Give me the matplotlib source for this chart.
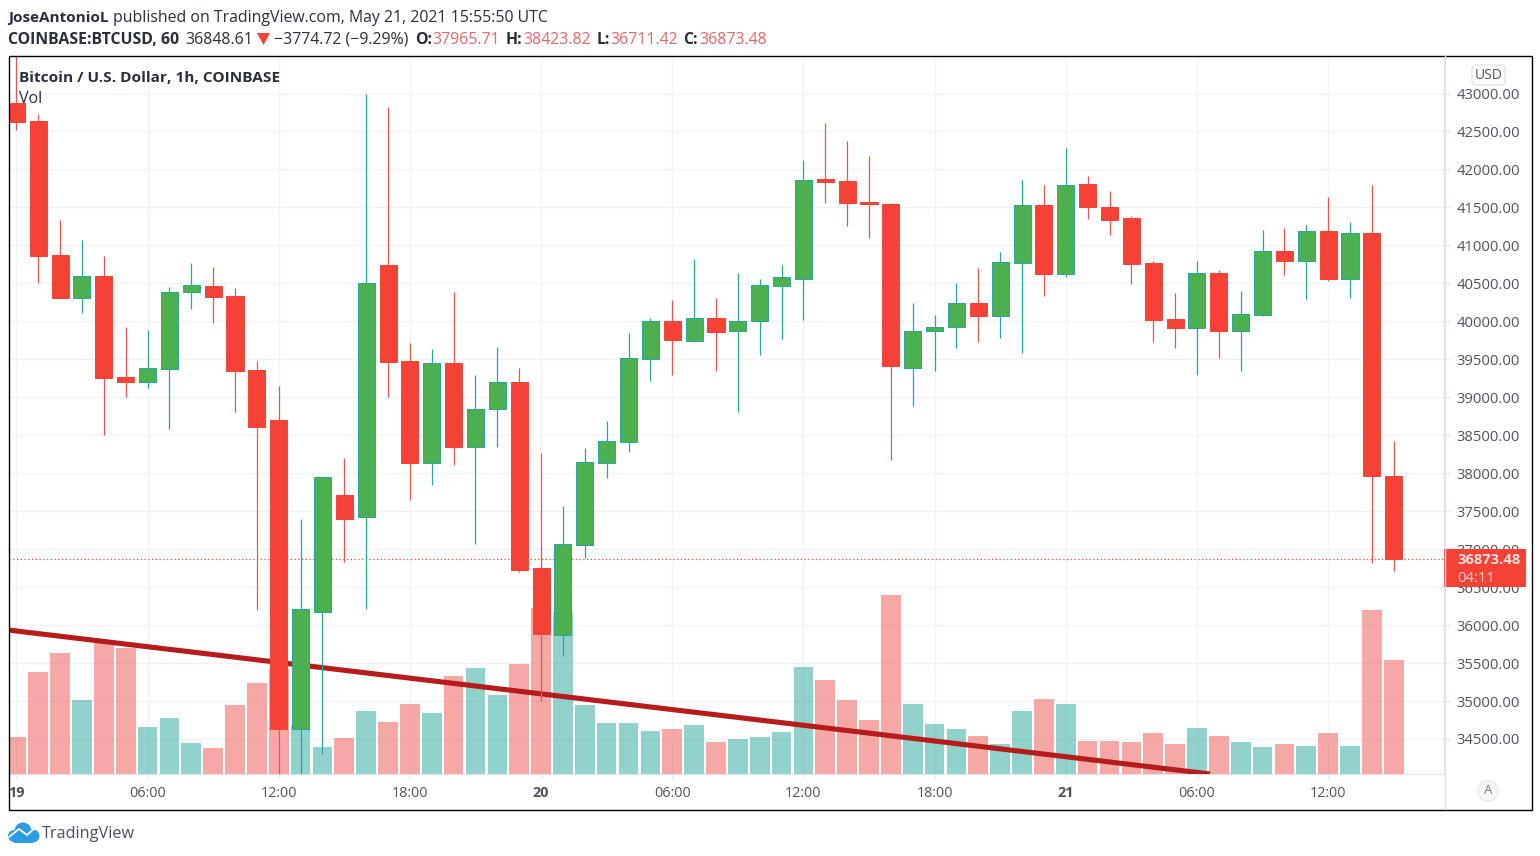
import matplotlib
matplotlib.use('Agg')
import matplotlib.pyplot as plt
from matplotlib.patches import Rectangle, FancyBboxPatch, Polygon, Circle

plt.rcParams['font.family'] = ['Open Sans', 'DejaVu Sans']

# precios de cada vela (1h)
opens = [42875, 42638, 40873, 40307, 40597, 39267, 39201, 39372, 40386, 40465,
         40333, 39359, 38700, 34632, 36172, 37713, 37423, 40741, 39477, 38134,
         39451, 38345, 38845, 39201, 36751, 35869, 37055, 38134, 38411, 39504,
         40004, 39741, 40043, 39872, 40004, 40465, 40557, 41874, 41848, 41571,
         41545, 39385, 39872, 39925, 40241, 40070, 40768, 41532, 40623, 41808,
         41505, 41361, 40768, 40031, 39912, 40636, 39872, 40083, 40926, 40794,
         41189, 40557, 41163, 37965.71]
closes = [42625, 40860, 40307, 40597, 39254, 39201, 39385, 40386, 40478, 40320,
          39346, 38608, 34632, 36212, 37950, 37397, 40504, 39464, 38134, 39451,
          38345, 38845, 39201, 36725, 35882, 37068, 38147, 38424, 39517, 40004,
          39754, 40043, 39859, 40004, 40478, 40583, 41861, 41835, 41558, 41545,
          39411, 39872, 39925, 40241, 40070, 40781, 41532, 40623, 41795, 41505,
          41334, 40755, 40017, 39912, 40636, 39872, 40096, 40926, 40794, 41189,
          40557, 41163, 37963, 36873.48]
highs = [43494, 42730, 41334, 41071, 40860, 39925, 39886, 40452, 40768, 40715,
         40439, 39477, 39148, 37397, 37950, 38200, 42993, 42822, 39714, 39635,
         40386, 39293, 39662, 39385, 38266, 37568, 38332, 38687, 39846, 40043,
         40281, 40821, 40307, 40636, 40557, 40741, 42124, 42611, 42374, 42177,
         41558, 40241, 40083, 40504, 40702, 40913, 41861, 41795, 42282, 41914,
         41716, 41387, 40794, 40373, 40794, 40675, 40399, 41203, 41229, 41268,
         41637, 41308, 41795, 38423.82]
lows = [42519, 40504, 40307, 40109, 38503, 39003, 39122, 38582, 40162, 39978,
        38806, 36199, 34039, 34039, 34302, 36831, 36212, 39003, 37647, 37844,
        38108, 37068, 38345, 36699, 35000, 35593, 36883, 37937, 38279, 39214,
        39293, 39728, 39346, 38806, 39556, 39767, 40017, 41558, 41255, 41097,
        38174, 38885, 39346, 39649, 39728, 39780, 39583, 40333, 40583, 41347,
        41137, 40491, 39728, 39649, 39293, 39517, 39346, 40070, 40610, 40294,
        40531, 40307, 36817, 36711.42]
volumes = [37, 102, 121, 74, 132, 126, 47, 56, 31, 26, 69, 91, 105, 49, 27, 36,
           63, 52, 70, 61, 98, 106, 79, 110, 166, 162, 69, 51, 51, 43, 45, 49,
           32, 35, 37, 42, 107, 94, 74, 54, 179, 70, 50, 45, 38, 30, 63, 75,
           70, 33, 33, 32, 41, 30, 46, 38, 32, 27, 30, 28, 41, 28, 164, 114]
vol_up = [o < c for o, c in zip(opens, closes)]

tick_pos = list(range(0, 64, 6))
tick_labels = ['19', '06:00', '12:00', '18:00', '20', '06:00', '12:00', '18:00', '21', '06:00', '12:00']
price_ticks = list(range(34500, 43500, 500))
last_price = 36873.48
trend_x = [-0.37, 54.6]
trend_y = [35935, 34039]

RED = '#F44336'
GREEN = '#4CAF50'
WICK_RED = '#EF5350'
WICK_GREEN = '#26A69A'
TEXT = '#50535E'
DARK = '#2A2E39'
W, H = 1540, 856

fig = plt.figure(figsize=(15.4, 8.56), dpi=100, facecolor='white')
pos = [8.5 / W, 1 - 774 / H, (1444 - 8.5) / W, (774 - 56) / H]
xlims = (-0.36, 65.3)
ylims = (34039, 43494)

# Rejilla (abajo) en su propio eje
ax_grid = fig.add_axes(pos, zorder=0)
ax_grid.set_xlim(xlims)
ax_grid.set_ylim(ylims)
ax_grid.set_xticks(tick_pos)
ax_grid.set_yticks(price_ticks)
ax_grid.tick_params(length=0, labelbottom=False, labelleft=False)
ax_grid.grid(color='#F0F2F7', lw=1)
for s in ax_grid.spines.values():
    s.set_visible(False)

# Volumen
ax_vol = fig.add_axes(pos, zorder=1)
ax_vol.patch.set_visible(False)
ax_vol.set_xlim(xlims)
ax_vol.set_ylim(0, 718)
ax_vol.axis('off')
vol_colors = ['#26A69A' if u else '#EF5350' for u in vol_up]
ax_vol.bar(range(len(volumes)), volumes, width=0.9, color=vol_colors, alpha=0.5, lw=0)

# Velas
ax = fig.add_axes(pos, zorder=2)
ax.patch.set_visible(False)
ax.set_xlim(xlims)
ax.set_ylim(ylims)
ax.yaxis.tick_right()
ax.set_yticks(price_ticks)
ax.set_yticklabels(['%.2f' % p for p in price_ticks], fontsize=10.7, color=TEXT)
ax.tick_params(axis='y', length=4, width=0.7, color='#E0E3EB', pad=5)
ax.set_xticks(tick_pos)
ax.set_xticklabels(tick_labels, fontsize=10.4, color=TEXT)
for lab, t in zip(ax.get_xticklabels(), tick_labels):
    if ':' not in t:
        lab.set_fontweight('bold')
ax.tick_params(axis='x', length=3, width=0.7, color='#E0E3EB', pad=5.5)
for s in ['top', 'left']:
    ax.spines[s].set_visible(False)
ax.spines['bottom'].set_color('#E0E3EB')
ax.spines['right'].set_color('#E0E3EB')

ax.plot(trend_x, trend_y, color='#B71C1C', lw=3.7, zorder=3, solid_capstyle='butt')
ax.axhline(last_price, color=RED, lw=0.9, ls=(0, (1, 2)), zorder=3)

for i in range(len(opens)):
    up = closes[i] >= opens[i]
    wick = WICK_GREEN if up else WICK_RED
    ax.vlines(i, lows[i], highs[i], color=wick, lw=0.9, zorder=4)
    ax.bar(i, abs(closes[i] - opens[i]), bottom=min(opens[i], closes[i]), width=0.78,
           color=GREEN if up else RED, edgecolor=WICK_GREEN if up else RED, lw=0.7, zorder=5)

# Capa de decoracion en pixeles
over = fig.add_axes([0, 0, 1, 1], zorder=5)
over.set_xlim(0, W)
over.set_ylim(H, 0)
over.axis('off')
over.patch.set_visible(False)


def px_text(x, y, s, size=11.4, color=DARK, weight='normal', ha='left'):
    over.text(x, y, s, fontsize=size, color=color, fontweight=weight, ha=ha, va='center')


over.add_patch(Rectangle((8.5, 55.5), 1523, 754, fill=False, ec='black', lw=1))
over.plot([1444.5, 1444.5], [56, 809], color='#E0E3EB', lw=1)

# Cabecera
px_text(8, 17.5, 'JoseAntonioL', weight='bold', size=11)
px_text(113, 17.5, 'published on TradingView.com, May 21, 2021 15:55:50 UTC')
px_text(8, 39.5, 'COINBASE:BTCUSD, 60', weight='bold')
px_text(185, 39.5, '36848.61')
over.add_patch(Polygon([(257, 33), (270, 33), (263.5, 45)], color=RED, lw=0))
px_text(274, 39.5, '\u22123774.72 (\u22129.29%)')
for x, s in [(415, 'O:'), (506, 'H:'), (597, 'L:'), (683, 'C:')]:
    px_text(x, 39.5, s, weight='bold')
for x, s in [(432, '37965.71'), (523, '38423.82'), (610, '36711.42'), (699, '36873.48')]:
    px_text(x, 39.5, s, color='#E5666A')

px_text(19, 77.5, 'Bitcoin / U.S. Dollar, 1h, COINBASE', weight='bold', size=11.1)
px_text(19, 98.5, 'Vol', size=11.5)

# Etiqueta de ultimo precio
over.add_patch(Rectangle((1444, 549), 82, 38, color=RED, lw=0))
px_text(1457, 560.5, '%.2f' % last_price, size=10.6, color='#FFE0DC', weight='bold')
px_text(1457, 578, '04:11', size=10.6, color='#FFD0CA')

# Boton USD y A
over.add_patch(FancyBboxPatch((1473, 66), 31, 18, boxstyle='round,pad=1,rounding_size=4',
                              fc='white', ec='#E0E3EB', lw=1))
px_text(1488.5, 75, 'USD', size=10, color=TEXT, ha='center')
over.add_patch(Circle((1488, 791), 10, fc='#F7F8FA', ec='#E8EAF0', lw=1))
px_text(1488, 791, 'A', size=9.5, color='#787B86', ha='center')

# Logo TradingView
for cx, cy, r in [(14, 836, 6), (23, 831, 8.5), (33, 836, 6.5)]:
    over.add_patch(Circle((cx, cy), r, color='#2E9BE6', lw=0))
over.add_patch(Rectangle((14, 834), 19, 8.5, color='#2E9BE6', lw=0))
over.plot([9, 19, 27, 36], [837, 829, 835, 827], color='white', lw=1.3)
px_text(42, 833.5, 'TradingView', size=11.7, color='#4A4F5C')

fig.savefig('out.png', dpi=100, facecolor='white')
